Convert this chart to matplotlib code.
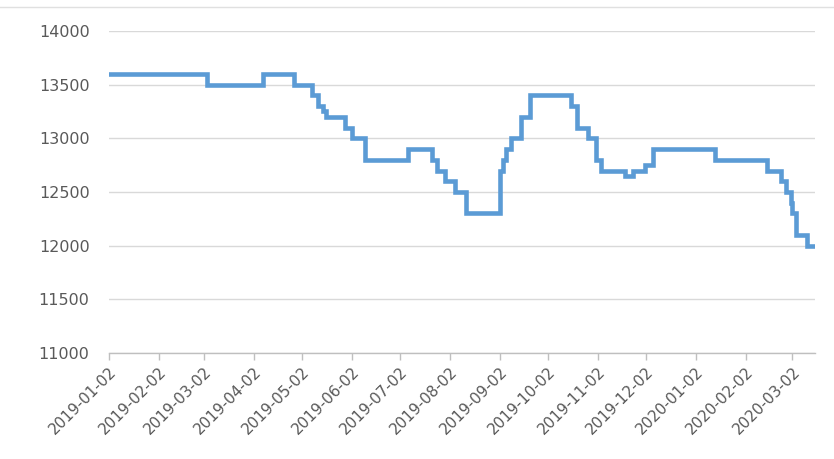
import matplotlib
matplotlib.use("Agg")
import matplotlib.pyplot as plt
import matplotlib.dates as mdates
from matplotlib.lines import Line2D
import pandas as pd

# Step-change points (date the price changes, new price)
change_dates = [
    "2019-01-02", "2019-03-04", "2019-04-08", "2019-04-27", "2019-05-08",
    "2019-05-12", "2019-05-15", "2019-05-17", "2019-05-29", "2019-06-02",
    "2019-06-10", "2019-07-07", "2019-07-22", "2019-07-25", "2019-07-30",
    "2019-08-05", "2019-08-12", "2019-09-02", "2019-09-04", "2019-09-06",
    "2019-09-09", "2019-09-15", "2019-09-21", "2019-10-16", "2019-10-20",
    "2019-10-27", "2019-11-01", "2019-11-04", "2019-11-19", "2019-11-24",
    "2019-12-01", "2019-12-06", "2020-01-14", "2020-02-15", "2020-02-24",
    "2020-02-27", "2020-03-01", "2020-03-02", "2020-03-04", "2020-03-11",
    "2020-03-15",
]
prices = [
    13600, 13500, 13600, 13500, 13400,
    13300, 13250, 13200, 13100, 13000,
    12800, 12900, 12800, 12700, 12600,
    12500, 12300, 12700, 12800, 12900,
    13000, 13200, 13400, 13300, 13100,
    13000, 12800, 12700, 12650, 12700,
    12750, 12900, 12800, 12700, 12600,
    12500, 12400, 12300, 12100, 12000,
    12000,
]
tick_labels = [
    "2019-01-02", "2019-02-02", "2019-03-02", "2019-04-02", "2019-05-02",
    "2019-06-02", "2019-07-02", "2019-08-02", "2019-09-02", "2019-10-02",
    "2019-11-02", "2019-12-02", "2020-01-02", "2020-02-02", "2020-03-02",
]
y_ticks = [11000, 11500, 12000, 12500, 13000, 13500, 14000]

dates = pd.to_datetime(change_dates)
tick_dates = pd.to_datetime(tick_labels)

W, H = 834, 459
fig = plt.figure(figsize=(W / 100, H / 100), dpi=100)
fig.patch.set_facecolor("white")
ax = fig.add_axes([109 / W, 1 - 353 / H, (815 - 109) / W, (353 - 31) / H])

ax.plot(dates, prices, drawstyle="steps-post", color="#5B9BD5", lw=3.3,
        solid_joinstyle="miter", zorder=3)

ax.set_xlim(pd.Timestamp("2019-01-02"), pd.Timestamp("2020-03-16"))
ax.set_ylim(11000, 14000)
ax.set_yticks(y_ticks)
ax.set_yticklabels([str(v) for v in y_ticks])
ax.set_xticks(tick_dates)
ax.set_xticklabels(tick_labels, rotation=45, ha="right", rotation_mode="anchor")

ax.grid(axis="y", color="#D9D9D9", lw=1.0)
ax.set_axisbelow(True)
for s in ["top", "right", "left"]:
    ax.spines[s].set_visible(False)
ax.spines["bottom"].set_color("#BFBFBF")
ax.spines["bottom"].set_linewidth(1.0)
ax.tick_params(axis="y", length=0, pad=14, labelsize=11.5, labelcolor="#595959")
ax.tick_params(axis="x", length=5, width=1.0, color="#BFBFBF", direction="out",
               pad=3, labelsize=11, labelcolor="#595959")

fig.add_artist(Line2D([0, 1], [1 - 7 / H, 1 - 7 / H], color="#E0E0E0", lw=1.0,
                      transform=fig.transFigure))

fig.savefig("out.png", dpi=100, facecolor="white")
